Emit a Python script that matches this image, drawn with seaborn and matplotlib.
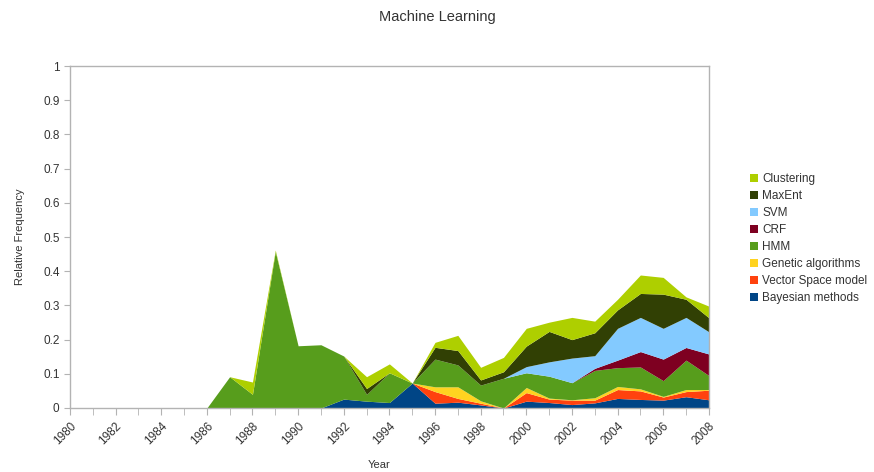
import numpy as np
import pandas as pd
import matplotlib
matplotlib.use("Agg")
import matplotlib.pyplot as plt
import seaborn as sns

sns.set_style("white")
plt.rcParams["font.family"] = ["Liberation Sans", "DejaVu Sans"]

# data (relative frequency per year, stacked)
years = list(range(1980, 2009))
#              1980..1985          1986  1987    1988   1989   1990   1991   1992   1993   1994   1995   1996   1997   1998   1999   2000   2001   2002   2003   2004   2005   2006   2007   2008
bayesian   = [0, 0, 0, 0, 0, 0,    0,    0,      0,     0,     0,     0,     0.026, 0.02,  0.016, 0.073, 0.014, 0.017, 0.009, 0,     0.02,  0.016, 0.010, 0.015, 0.028, 0.025, 0.023, 0.033, 0.024]
vector_sp  = [0, 0, 0, 0, 0, 0,    0,    0,      0,     0,     0,     0,     0,     0,     0,     0,     0.034, 0.011, 0.005, 0,     0.025, 0.010, 0.013, 0.008, 0.026, 0.025, 0.009, 0.015, 0.028]
genetic    = [0, 0, 0, 0, 0, 0,    0,    0,      0,     0,     0,     0,     0,     0,     0,     0,     0.014, 0.034, 0.007, 0,     0.015, 0.003, 0.001, 0.007, 0.009, 0.006, 0.002, 0.006, 0.002]
hmm        = [0, 0, 0, 0, 0, 0,    0,    0.0915, 0.04,  0.458, 0.182, 0.185, 0.126, 0.02,  0.087, 0,     0.081, 0.064, 0.046, 0.087, 0.043, 0.064, 0.05,  0.08,  0.055, 0.064, 0.046, 0.086, 0.041]
crf        = [0, 0, 0, 0, 0, 0,    0,    0,      0,     0,     0,     0,     0,     0,     0,     0,     0,     0,     0,     0,     0,     0,     0,     0.006, 0.022, 0.045, 0.063, 0.037, 0.063]
svm        = [0, 0, 0, 0, 0, 0,    0,    0,      0,     0,     0,     0,     0,     0,     0,     0,     0,     0,     0,     0,     0.018, 0.042, 0.072, 0.037, 0.093, 0.1,   0.09,  0.088, 0.065]
maxent     = [0, 0, 0, 0, 0, 0,    0,    0,      0,     0,     0,     0,     0,     0.017, 0,     0,     0.0345,0.042, 0.015, 0.019, 0.06,  0.089, 0.054, 0.067, 0.054, 0.07,  0.1,   0.053, 0.041]
clustering = [0, 0, 0, 0, 0, 0,    0,    0,      0.036, 0.004, 0,     0,     0,     0.0345,0.026, 0,     0.0145,0.0445,0.037, 0.042, 0.052, 0.027, 0.065, 0.034, 0.031, 0.054, 0.049, 0.007, 0.034]

labels = ['Bayesian methods', 'Vector Space model', 'Genetic algorithms', 'HMM',
          'CRF', 'SVM', 'MaxEnt', 'Clustering']
colors = ['#004586', '#ff420e', '#ffd320', '#579d1c',
          '#7e0021', '#83caff', '#314004', '#aecf00']

df = pd.DataFrame({'year': years, 'Bayesian methods': bayesian, 'Vector Space model': vector_sp,
                   'Genetic algorithms': genetic, 'HMM': hmm, 'CRF': crf, 'SVM': svm,
                   'MaxEnt': maxent, 'Clustering': clustering})

fig, ax = plt.subplots(figsize=(8.74, 4.72), dpi=100)
fig.subplots_adjust(left=0.080, right=0.811, top=0.860, bottom=0.1356)

polys = ax.stackplot(df['year'], [df[c] for c in labels], labels=labels, colors=colors, linewidth=0)

ax.set_xlim(1980, 2008)
ax.set_ylim(0, 1)
ax.set_xticks(np.arange(1980, 2009, 2))
ax.set_xticks(np.arange(1980, 2009, 1), minor=True)
ax.set_yticks(np.arange(0, 1.01, 0.1))
ax.set_yticklabels(['0', '0.1', '0.2', '0.3', '0.4', '0.5', '0.6', '0.7', '0.8', '0.9', '1'])
ax.tick_params(axis='x', which='both', direction='out', length=5, color='#b3b3b3',
               labelsize=8.5, labelcolor='#333333', bottom=True)
ax.tick_params(axis='y', direction='out', length=4, color='#b3b3b3',
               labelsize=8.5, labelcolor='#333333', left=True)
plt.setp(ax.get_xticklabels(), rotation=45, ha='right', rotation_mode='anchor')
for s in ax.spines.values():
    s.set_color('#b3b3b3')
    s.set_linewidth(1)

ax.set_xlabel('Year', fontsize=8, color='#333333')
ax.xaxis.set_label_coords(0.484, -0.152)
ax.set_ylabel('Relative Frequency', fontsize=8, color='#333333')
ax.yaxis.set_label_coords(-0.071, 0.5)

fig.suptitle('Machine Learning', x=0.5, y=0.964, va='center', fontsize=10.5, color='#333333')

h, l = ax.get_legend_handles_labels()
ax.legend(h[::-1], l[::-1], loc='upper left', bbox_to_anchor=(0.858, 0.633),
          bbox_transform=fig.transFigure, frameon=False, fontsize=8.5,
          handlelength=0.7, handleheight=0.7, handletextpad=0.35,
          labelspacing=0.42, borderaxespad=0, borderpad=0, labelcolor='#333333')

plt.savefig('out.png', dpi=100)
